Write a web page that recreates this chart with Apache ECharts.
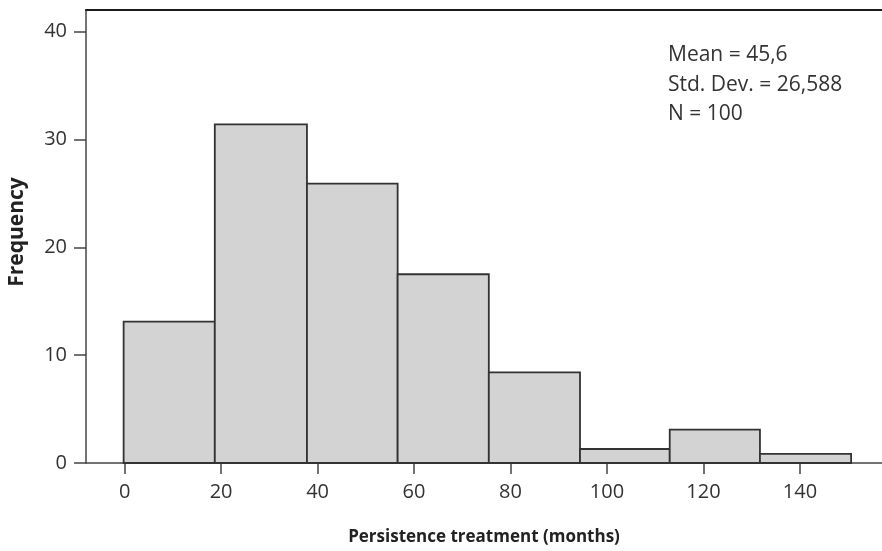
<!DOCTYPE html>
<html>
<head>
<meta charset="utf-8">
<script src="https://cdn.jsdelivr.net/npm/echarts@6/dist/echarts.min.js"></script>
<style>
html,body{margin:0;padding:0;background:#fff;}
#chart{width:882px;height:551px;}
</style>
</head>
<body>
<div id="chart"></div>
<script>
// Histogram bins (months) and frequencies
const binStarts = [-0.2, 18.7, 37.8, 56.6, 75.5, 94.4, 113.0, 131.7];
const binEnds   = [18.7, 37.8, 56.6, 75.5, 94.4, 113.0, 131.7, 150.6];
const frequencies = [13.1, 31.4, 25.9, 17.5, 8.4, 1.3, 3.1, 0.85];
const xTicks = [0, 20, 40, 60, 80, 100, 120, 140];
const yTicks = [0, 10, 20, 30, 40];
const statsLines = ['Mean = 45,6', 'Std. Dev. = 26,588', 'N = 100'];
const xTitle = 'Persistence treatment (months)';
const yTitle = 'Frequency';

const FONT = 'Open Sans';
const data = binStarts.map((s, i) => [s, binEnds[i], frequencies[i]]);

const chart = echarts.init(document.getElementById('chart'), null, {renderer: 'canvas'});
chart.setOption({
  backgroundColor: '#ffffff',
  animation: false,
  grid: {left: 86, right: 0, top: 10, bottom: 88, outerBoundsMode: 'none', containLabel: false},
  xAxis: [{
    type: 'value',
    min: -8,
    max: 157,
    position: 'bottom',
    name: xTitle,
    nameLocation: 'middle',
    nameGap: 66,
    nameTextStyle: {fontFamily: FONT, fontWeight: 'bold', fontSize: 17, color: '#222'},
    axisLine: {show: true, onZero: false, lineStyle: {color: '#444', width: 1.5}},
    axisTick: {show: true, length: 11, customValues: xTicks, lineStyle: {color: '#444', width: 1.5}},
    axisLabel: {customValues: xTicks, fontFamily: FONT, fontSize: 20, color: '#333', margin: 19},
    splitLine: {show: false}
  }, {
    type: 'value',
    min: -8,
    max: 157,
    position: 'top',
    axisLine: {show: true, onZero: false, lineStyle: {color: '#1a1a1a', width: 2}},
    axisTick: {show: false},
    axisLabel: {show: false},
    splitLine: {show: false}
  }],
  yAxis: {
    type: 'value',
    min: 0,
    max: 42,
    name: yTitle,
    nameLocation: 'middle',
    nameGap: 58,
    nameRotate: 90,
    nameTextStyle: {fontFamily: FONT, fontWeight: 'bold', fontSize: 21, color: '#222', padding: [0, 0, 0, 9]},
    axisLine: {show: true, onZero: false, lineStyle: {color: '#444', width: 1.5}},
    axisTick: {show: true, length: 12, customValues: yTicks, lineStyle: {color: '#444', width: 1.5}},
    axisLabel: {customValues: yTicks, fontFamily: FONT, fontSize: 20, color: '#333', margin: 19},
    splitLine: {show: false}
  },
  series: [{
    type: 'custom',
    xAxisIndex: 0,
    data: data,
    renderItem: function (params, api) {
      const p0 = api.coord([api.value(0), api.value(2)]);
      const p1 = api.coord([api.value(1), 0]);
      return {
        type: 'rect',
        shape: {x: p0[0], y: p0[1], width: p1[0] - p0[0], height: p1[1] - p0[1]},
        style: {fill: '#d3d3d3', stroke: '#333333', lineWidth: 1.8}
      };
    },
    encode: {x: [0, 1], y: 2}
  }],
  graphic: statsLines.map((t, i) => ({
    type: 'text',
    left: 668,
    top: 45 + i * 29.5,
    style: {text: t, fontFamily: FONT, fontSize: 21, fill: '#333'}
  }))
});
</script>
</body>
</html>
